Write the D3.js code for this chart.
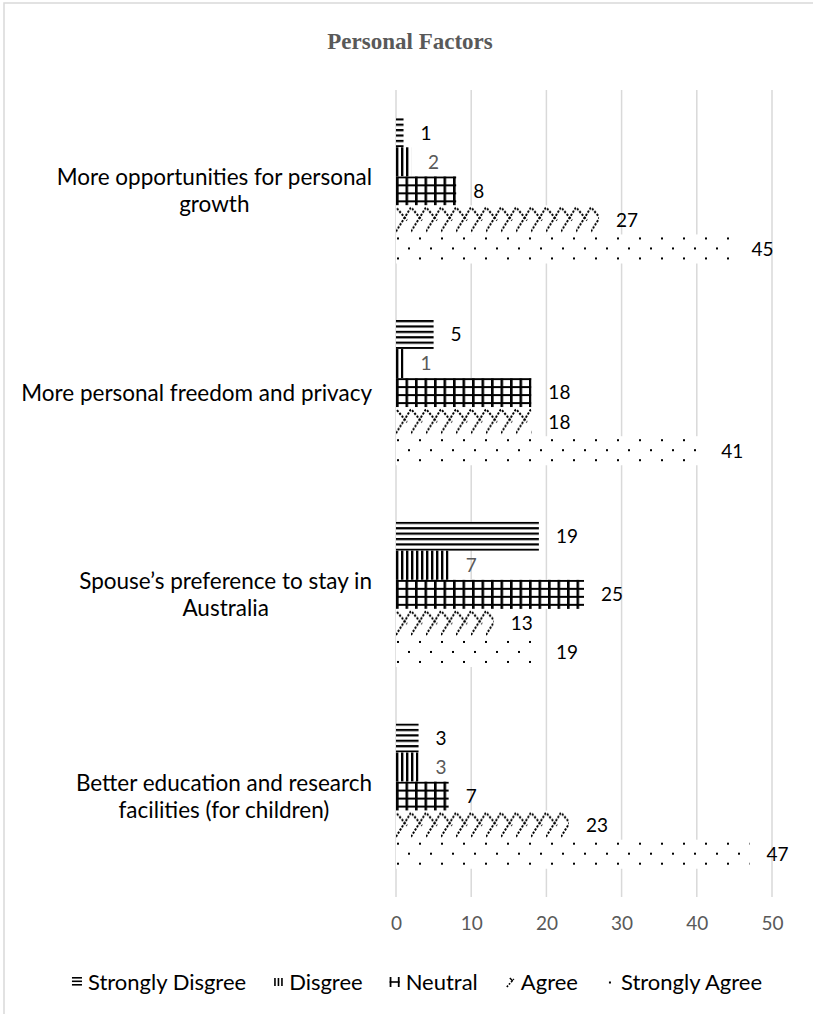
<!DOCTYPE html>
<html>
<head>
<meta charset="utf-8">
<script src="https://cdn.jsdelivr.net/npm/d3@7"></script>
<style>
  body { margin: 0; background: #fff; }
  svg { display: block; }
</style>
</head>
<body>
<svg id="chart" width="813" height="1014"></svg>
<script>
// ---- data ----
const categories = [
  "More opportunities for personal growth",
  "More personal freedom and privacy",
  "Spouse\u2019s preference to stay in Australia",
  "Better education and research facilities (for children)"
];
const seriesNames = ["Strongly Disgree", "Disgree", "Neutral", "Agree", "Strongly Agree"];
const stronglyDisagree = [1, 5, 19, 3];
const disagree = [2, 1, 7, 3];
const neutral = [8, 18, 25, 7];
const agree = [27, 18, 13, 23];
const stronglyAgree = [45, 41, 19, 47];
const xTicks = [0, 10, 20, 30, 40, 50];
const chartTitle = "Personal Factors";

const seriesValues = [stronglyDisagree, disagree, neutral, agree, stronglyAgree];
const rows = [];
categories.forEach((c, ci) => {
  seriesNames.forEach((s, si) => rows.push({ category: c, series: s, si, value: seriesValues[si][ci] }));
});

// ---- layout ----
const W = 813, H = 1014;
const sansFont = "Lato, 'Open Sans', sans-serif";
const svg = d3.select("#chart");

const x = d3.scaleLinear().domain([0, 50]).range([396, 772]);
const y0 = d3.scaleBand().domain(categories).range([90, 897]).paddingInner(0.28).paddingOuter(0.14);
const y1 = d3.scaleBand().domain(seriesNames).range([0, y0.bandwidth()]);
const barH = y1.bandwidth();

// chart frame
svg.append("rect")
  .attr("x", 4).attr("y", 3).attr("width", W + 10).attr("height", H + 10)
  .attr("fill", "#fff").attr("stroke", "#d9d9d9").attr("stroke-width", 1.5);

// ---- fill patterns, one per series ----
const defs = svg.append("defs");
function pattern(id, w, h) {
  const p = defs.append("pattern").attr("id", id)
    .attr("patternUnits", "userSpaceOnUse").attr("width", w).attr("height", h);
  p.append("rect").attr("width", w).attr("height", h).attr("fill", "#fff");
  return p;
}
// horizontal stripes
pattern("pat-0", 10, 5.4).append("rect").attr("width", 10).attr("height", 2.2).attr("fill", "#000");
// vertical stripes
pattern("pat-1", 5, 10).append("rect").attr("width", 2.4).attr("height", 10).attr("fill", "#000");
// grid
{
  const p = pattern("pat-2", 9.5, 8);
  p.append("rect").attr("width", 2.6).attr("height", 8).attr("fill", "#000");
  p.append("rect").attr("width", 9.5).attr("height", 2).attr("fill", "#000");
}
// dashed zig-zag: long rising diagonal crossed by a short falling one
{
  const p = pattern("pat-3", 15, barH);
  const dash = { stroke: "#000", "stroke-width": 2, "stroke-dasharray": "2.2,1.5", fill: "none" };
  const a = p.append("path").attr("d", `M0,${barH - 3} L15,2`);
  const b = p.append("path").attr("d", "M1,3 L11,15");
  [a, b].forEach(el => Object.entries(dash).forEach(([k, v]) => el.attr(k, v)));
}
// sparse dots
{
  const p = pattern("pat-4", 22, 20);
  p.append("rect").attr("x", 1).attr("y", 3).attr("width", 2).attr("height", 2).attr("fill", "#000");
  p.append("rect").attr("x", 12).attr("y", 13).attr("width", 2).attr("height", 2).attr("fill", "#000");
}

// ---- gridlines ----
svg.append("g").selectAll("line").data(xTicks).join("line")
  .attr("x1", d => x(d)).attr("x2", d => x(d))
  .attr("y1", 90).attr("y2", 897)
  .attr("stroke", "#d9d9d9").attr("stroke-width", 1.5);

// ---- x axis labels ----
const xAxis = svg.append("g").attr("transform", "translate(0,897)")
  .call(d3.axisBottom(x).tickValues(xTicks).tickSize(0).tickPadding(20).tickFormat(d3.format("d")));
xAxis.select(".domain").remove();
xAxis.selectAll("text").attr("font-family", sansFont).attr("font-size", 19).attr("fill", "#595959");

// ---- bars ----
const bars = svg.append("g").selectAll("g").data(rows).join("g")
  .attr("transform", d => `translate(${x(0)},${y0(d.category) + y1(d.series)})`);
bars.append("rect")
  .attr("width", d => x(d.value) - x(0))
  .attr("height", barH)
  .attr("fill", d => `url(#pat-${d.si})`);

// value labels
svg.append("g").selectAll("text").data(rows).join("text")
  .attr("x", d => x(d.value) + 17)
  .attr("y", d => y0(d.category) + y1(d.series) + barH / 2)
  .attr("dy", "0.36em")
  .attr("font-family", sansFont).attr("font-size", 19)
  .attr("fill", d => d.series === "Disgree" ? "#595959" : "#000")
  .text(d => d.value);

// ---- category labels (wrapped, block right-aligned, lines centred) ----
const labelFontSize = 22.5, lineH = 27, maxLineW = 360, labelRight = 372;
const measurer = svg.append("text").attr("font-family", sansFont).attr("font-size", labelFontSize)
  .attr("visibility", "hidden");
function textWidth(s) { measurer.text(s); return measurer.node().getComputedTextLength(); }
function wrap(s) {
  const words = s.split(" ");
  const lines = [];
  let cur = "";
  words.forEach(w => {
    const t = cur ? cur + " " + w : w;
    if (cur && textWidth(t) > maxLineW) { lines.push(cur); cur = w; } else cur = t;
  });
  if (cur) lines.push(cur);
  return lines;
}
categories.forEach(c => {
  const lines = wrap(c);
  const blockW = d3.max(lines, textWidth);
  const cx = labelRight - blockW / 2;
  const cy = y0(c) + y0.bandwidth() / 2;
  const t = svg.append("text").attr("font-family", sansFont).attr("font-size", labelFontSize)
    .attr("fill", "#000").attr("text-anchor", "middle");
  lines.forEach((ln, i) => {
    t.append("tspan").attr("x", cx)
      .attr("y", cy + (i - (lines.length - 1) / 2) * lineH)
      .attr("dy", "0.36em").text(ln);
  });
});
measurer.remove();

// ---- title ----
svg.append("text").attr("x", 410).attr("y", 49).attr("text-anchor", "middle")
  .attr("font-family", "'Liberation Serif', 'DejaVu Serif', serif").attr("font-weight", "bold")
  .attr("font-size", 23).attr("fill", "#595959").text(chartTitle);

// ---- legend ----
// small glyph-like markers echoing each series' fill
function drawMarker(g, i) {
  const k = "#000";
  if (i === 0) {
    [0, 3.5, 7].forEach(yy => g.append("rect").attr("x", 0).attr("y", yy).attr("width", 10).attr("height", 1.6).attr("fill", k));
  } else if (i === 1) {
    [1, 4.5, 8].forEach(xx => g.append("rect").attr("x", xx).attr("y", 1).attr("width", 1.6).attr("height", 8).attr("fill", k));
  } else if (i === 2) {
    g.append("rect").attr("x", 0).attr("y", 0).attr("width", 1.8).attr("height", 10).attr("fill", k);
    g.append("rect").attr("x", 8.2).attr("y", 0).attr("width", 1.8).attr("height", 10).attr("fill", k);
    g.append("rect").attr("x", 0).attr("y", 4.2).attr("width", 10).attr("height", 1.6).attr("fill", k);
  } else if (i === 3) {
    g.append("path").attr("d", "M2,10 L9,2").attr("stroke", k).attr("stroke-width", 1.6)
      .attr("stroke-dasharray", "1.8,1.4").attr("fill", "none");
    g.append("path").attr("d", "M5,1 L8,4").attr("stroke", k).attr("stroke-width", 1.4).attr("fill", "none");
  } else {
    g.append("rect").attr("x", 4).attr("y", 4.5).attr("width", 2).attr("height", 2).attr("fill", k);
  }
}
const legendFont = 22, swatch = 10, swatchGap = 6, itemGap = 27, legendBase = 990;
const lm = svg.append("text").attr("font-family", sansFont).attr("font-size", legendFont).attr("visibility", "hidden");
const widths = seriesNames.map(s => { lm.text(s); return lm.node().getComputedTextLength(); });
lm.remove();
const total = d3.sum(widths) + seriesNames.length * (swatch + swatchGap) + (seriesNames.length - 1) * itemGap;
let lx = 417 - total / 2;
const legend = svg.append("g");
seriesNames.forEach((s, i) => {
  const g = legend.append("g").attr("transform", `translate(${lx},${legendBase - 13})`);
  drawMarker(g, i);
  legend.append("text").attr("x", lx + swatch + swatchGap).attr("y", legendBase)
    .attr("font-family", sansFont).attr("font-size", legendFont).attr("fill", "#000").text(s);
  lx += swatch + swatchGap + widths[i] + itemGap;
});
</script>
</body>
</html>
